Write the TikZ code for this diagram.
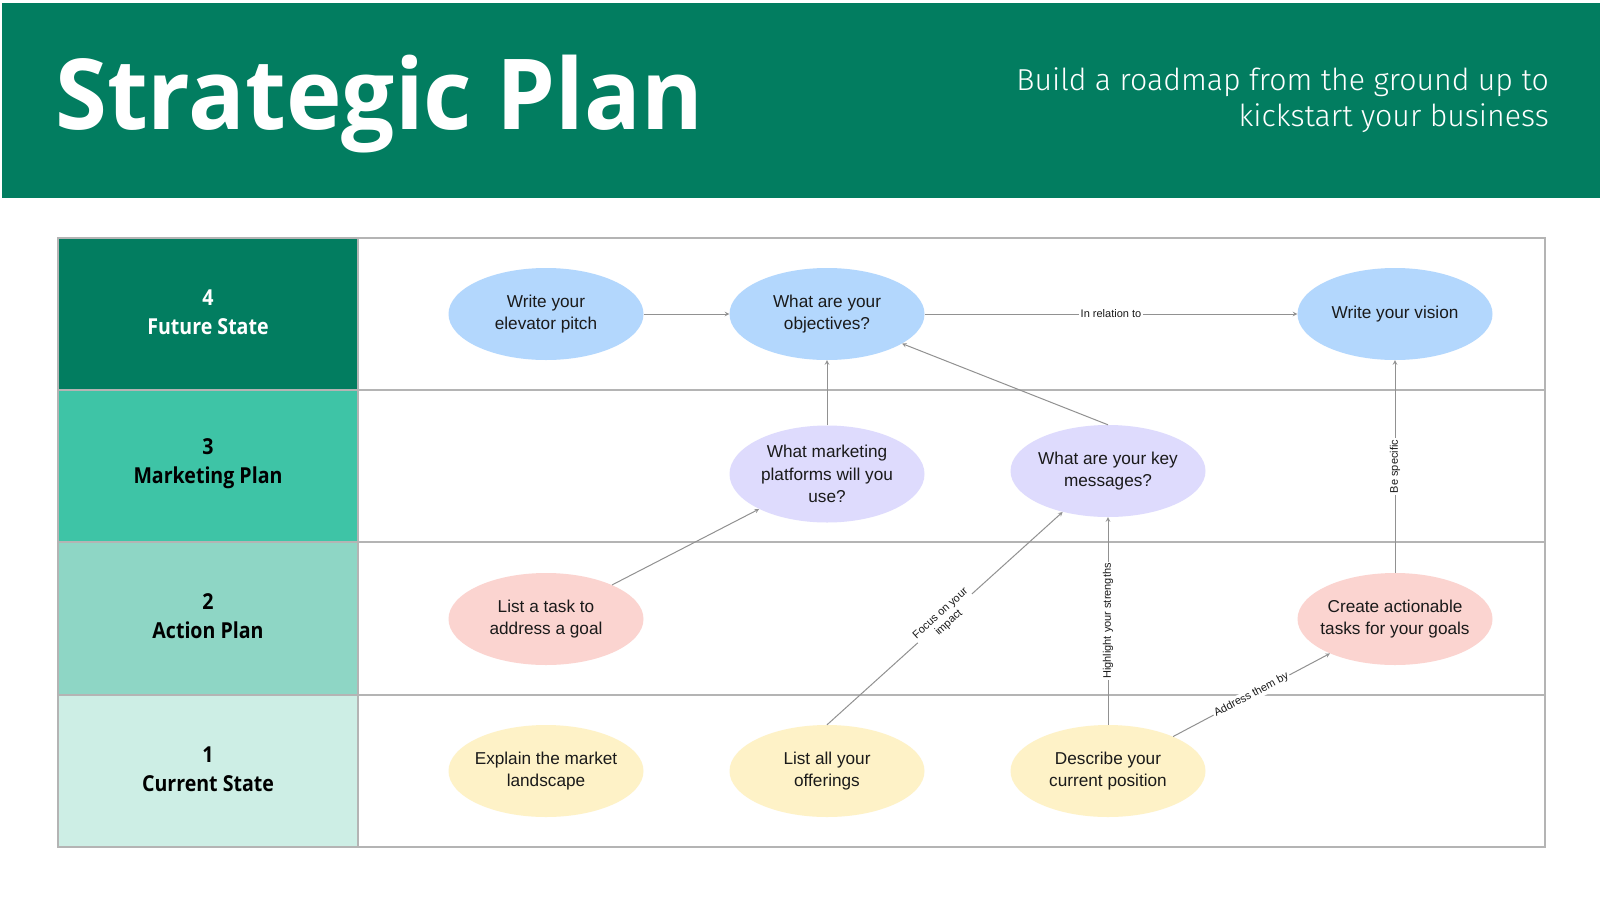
\documentclass[tikz,border=0pt]{standalone}
\usepackage{fontspec}
\setmainfont{Liberation Sans}
\newfontfamily\headfont[FakeStretch=0.89]{Open Sans}
\newfontfamily\titlefont[FakeStretch=0.96]{Open Sans}
\newfontfamily\subfont{Fira Sans Light}
\usetikzlibrary{shapes.geometric}

\definecolor{darkgreen}{RGB}{2,125,96}
\definecolor{midgreen}{RGB}{62,196,166}
\definecolor{lightgreen}{RGB}{142,214,197}
\definecolor{palegreen}{RGB}{205,238,229}
\definecolor{gridgray}{RGB}{180,180,180}
\definecolor{linkgray}{RGB}{145,145,145}
\definecolor{goalblue}{RGB}{179,215,253}
\definecolor{planpurple}{RGB}{222,219,253}
\definecolor{actionpink}{RGB}{251,212,208}
\definecolor{stateyellow}{RGB}{254,242,199}
\definecolor{inktext}{RGB}{26,26,26}

\begin{document}
\begin{tikzpicture}[x=1pt,y=-1pt,>=stealth,node distance=281pt,
    step node/.style={ellipse,minimum width=195pt,minimum height=92pt,inner sep=-8pt,align=center,text=inktext,font=\fontsize{17.2}{22.5}\selectfont},
    goal/.style={step node,fill=goalblue},
    plan/.style={step node,fill=planpurple},
    action/.style={step node,fill=actionpink},
    state/.style={step node,fill=stateyellow},
    row label/.style={align=center,font=\headfont\bfseries\fontsize{22}{29}\selectfont},
    grid/.style={draw=gridgray,line width=1.3pt},
    link/.style={->,draw=linkgray,line width=1pt},
    tag/.style={fill=white,inner sep=1.5pt,text=inktext,font=\fontsize{11}{12.5}\selectfont}]

    \useasboundingbox (0,0) rectangle (1600,900);
    \fill[white] (0,0) rectangle (1600,900);

    % header
    \fill[darkgreen] (2,3) rectangle (1600,198);
    \node[anchor=base west,inner sep=0pt,text=white,font=\titlefont\bfseries\fontsize{98}{98}\selectfont] (title) at (55,129) {Strategic Plan};
    \node[anchor=east,inner sep=0pt,align=right,text=white,font=\subfont\fontsize{30.3}{35.5}\selectfont] (subtitle) at (1549,100) {Build a roadmap from the ground up to\\kickstart your business};

    % rows
    \fill[darkgreen] (58,238) rectangle (358,390);
    \fill[midgreen] (58,390) rectangle (358,542);
    \fill[lightgreen] (58,542) rectangle (358,695);
    \fill[palegreen] (58,695) rectangle (358,847);
    \draw[grid] (58,238) rectangle (1545,847);
    \foreach \y in {390,542,695}
        \draw[grid] (58,\y) -- (1545,\y);
    \draw[grid] (358,238) -- (358,847);

    \node[row label,text=white] (r4) at (208,312) {4\\Future State};
    \node[row label] (r3) at (208,464) {3\\Marketing Plan};
    \node[row label] (r2) at (208,616) {2\\Action Plan};
    \node[row label] (r1) at (208,769) {1\\Current State};

    % steps
    \node[goal] (pitch) at (546,314) {Write your\\elevator pitch};
    \node[goal] (obj) [right of = pitch] {What are your\\objectives?};
    \node[goal] (vision) at (1395,314) {Write your vision};

    \node[plan,minimum height=97pt] (mkt) [below of = obj,node distance=160pt] {What marketing\\platforms will you\\use?};
    \node[plan] (msg) [right of = mkt,yshift=3pt] {What are your key\\messages?};

    \node[action] (task) [below of = pitch,node distance=305pt] {List a task to\\address a goal};
    \node[action] (act) [below of = vision,node distance=305pt] {Create actionable\\tasks for your goals};

    \node[state] (land) [below of = task,node distance=152pt] {Explain the market\\landscape};
    \node[state] (offer) [right of = land] {List all your\\offerings};
    \node[state] (pos) [right of = offer] {Describe your\\current position};

    % links
    \draw[link] (pitch) to (obj);
    \draw[link] (obj) to node[tag] {In relation to} (vision);
    \draw[link] (mkt) to (obj);
    \draw[link] (msg.north) to (obj);
    \draw[link] (task) to (mkt);
    \draw[link] (offer.north) to node[tag,sloped,align=center] {Focus on your\\impact} (msg);
    \draw[link] (pos.north) to node[tag,sloped] {Highlight your strengths} (msg.south);
    \draw[link] (pos) to node[tag,sloped] {Address them by} (act);
    \draw[link] (act) to node[tag,sloped] {Be specific} (vision);
\end{tikzpicture}
\end{document}
